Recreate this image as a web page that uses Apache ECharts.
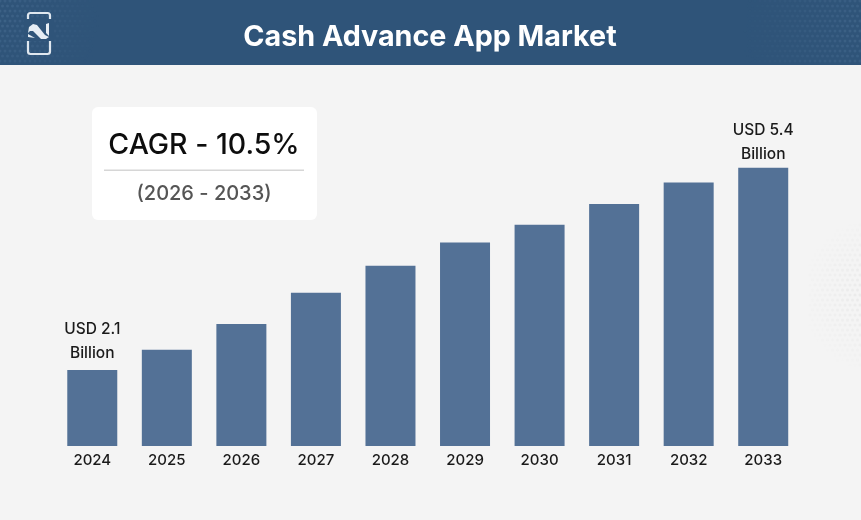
<!DOCTYPE html>
<html><head><meta charset="utf-8">
<style>html,body{margin:0;padding:0;background:#f4f4f4}#c{width:861px;height:520px}</style>
<script src="https://cdn.jsdelivr.net/npm/echarts@6/dist/echarts.min.js"></script>
</head><body><div id="c"></div>
<script>
const chartTitle = 'Cash Advance App Market';
const cagrText = 'CAGR - 10.5%';
const cagrRange = '(2026 - 2033)';
const years = ['2024','2025','2026','2027','2028','2029','2030','2031','2032','2033'];
const values = [2.1,2.43,2.85,3.36,3.80,4.18,4.47,4.81,5.16,5.4];
const labelled = {'2024':'USD 2.1\nBillion','2033':'USD 5.4\nBillion'};
const FONT = 'Inter, "Open Sans", sans-serif';

const dots = [];
function halftone(cx, cy, r, x0, y0, x1, y1, fill, maxOp){
  for(let y=y0, row=0;y<=y1;y+=5,row++){ for(let x=x0;x<=x1;x+=5){
    const px=x+(row%2?2.5:0), d=Math.hypot(px-cx,y-cy);
    if(d<r) dots.push({type:'circle',silent:true,z:-1,shape:{cx:px,cy:y,r:1.5},style:{fill,opacity:maxOp*(1-d/r)}});
  }}
}
halftone(0,20,100,0,1,100,63,'#5f83a8',0.3);
halftone(861,30,120,745,1,860,63,'#5f83a8',0.3);
halftone(880,295,80,810,225,860,365,'#e2e2e2',0.7);

const chart = echarts.init(document.getElementById('c'),null,{renderer:'canvas'});
chart.setOption({
  animation:false,
  backgroundColor:'#f4f4f4',
  title:{text:chartTitle,left:425,top:17,textAlign:'center',
    textStyle:{color:'#ffffff',fontFamily:FONT,fontWeight:700,fontSize:28.7,lineHeight:30}},
  grid:{left:55,right:60.5,top:131,height:315,containLabel:false},
  xAxis:{type:'category',data:years,
    axisLine:{show:false},axisTick:{show:false},
    axisLabel:{color:'#1a1a1a',fontFamily:FONT,fontSize:15,fontWeight:500,margin:7}},
  yAxis:{type:'value',min:0.86,max:6,show:false,splitLine:{show:false}},
  series:[{type:'bar',barWidth:50,
    data:values.map((v,i)=>years[i]==='2033'?{value:v,label:{distance:1}}:v),
    itemStyle:{color:'#537196'},
    label:{show:true,position:'top',distance:5,color:'#1a1a1a',fontFamily:FONT,fontSize:15.5,fontWeight:500,lineHeight:24,
      formatter:p=>labelled[p.name]||''}}],
  graphic:{elements:[
    {type:'rect',z:-2,silent:true,shape:{x:0,y:0,width:861,height:65},style:{fill:'#2f5479'}},
    ...dots,
    {type:'rect',z:5,shape:{x:92,y:107,width:225,height:113,r:6},style:{fill:'#ffffff'}},
    {type:'rect',z:6,shape:{x:104,y:169.5,width:200,height:1.5},style:{fill:'#d6d6d6'}},
    {type:'text',z:6,style:{x:204,y:145,text:cagrText,align:'center',verticalAlign:'middle',fill:'#0d0d0d',font:'500 28.5px '+FONT}},
    {type:'text',z:6,style:{x:204,y:194,text:cagrRange,align:'center',verticalAlign:'middle',fill:'#555555',font:'500 20px '+FONT}},
    {type:'rect',z:6,shape:{x:28,y:13,width:22,height:41,r:2.5},style:{fill:'none',stroke:'#dfe7ef',lineWidth:2.2}},
    {type:'rect',z:7,shape:{x:24,y:19,width:30,height:22},style:{fill:'#2f5479'}},
    {type:'polygon',z:8,shape:{points:[[28,33],[29,27],[33,24],[37,25],[41,30],[45,35],[49,37],[46,39],[41,39],[37,35],[33,31],[30,31]]},style:{fill:'#e6edf4'}},
    {type:'polygon',z:8,shape:{points:[[46,24],[49,23],[49,36],[46,33]]},style:{fill:'#e6edf4'}},
    {type:'polygon',z:8,shape:{points:[[28,34],[35,38],[28,37]]},style:{fill:'#e6edf4'}}
  ]}
});
</script></body></html>
